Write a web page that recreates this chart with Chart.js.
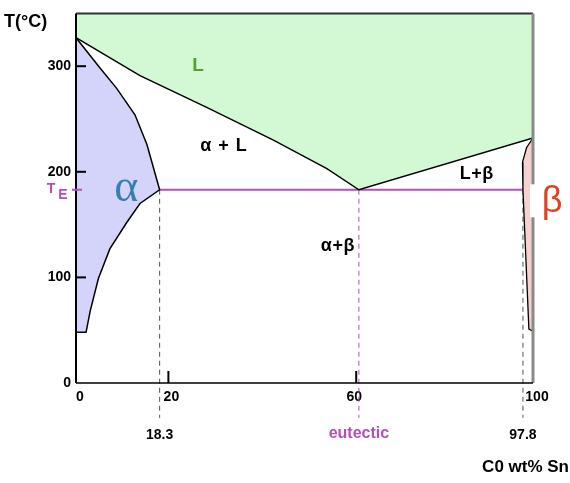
<!DOCTYPE html>
<html>
<head>
<meta charset="utf-8">
<script src="https://cdn.jsdelivr.net/npm/chart.js@4.4.1/dist/chart.umd.min.js"></script>
<style>
  html, body { margin: 0; padding: 0; background: #fff; }
  #wrap { width: 570px; height: 483px; }
</style>
</head>
<body>
<div id="wrap"><canvas id="phase"></canvas></div>
<script>
// Pb-Sn phase diagram
const liquidusX = [0, 14.0, 28.6, 43.2, 54.9, 61.9, 100];
const liquidusT = [327, 291, 261, 230, 203, 183, 232];

const alphaSolidusX = [0, 5.3, 8.9, 12.9, 15.5, 18.3];
const alphaSolidusT = [327, 298, 279, 254, 226, 183];
const alphaSolvusX = [18.3, 14.0, 11.1, 7.4, 4.9, 3.1, 2.2, 0];
const alphaSolvusT = [183, 170, 152, 127, 99, 68, 48, 48];

const betaX = [100, 98.6, 97.7, 97.8, 99.1, 100];
const betaT = [232, 223, 209, 183, 51, 49];

const eutecticT = 183;
const alphaMax = 18.3, eutecticC = 61.9, betaMin = 97.8;
const belowAxisT = -33;

const xTicks = [0, 20, 60, 100];
const yTicks = [0, 100, 200, 300];
const tMax = 350;

const fieldLabels = [
  { text: 'L', x: 26.7, t: 300, color: '#5a9e2c', font: 'bold 19px "Liberation Sans"', sp: '0px' },
  { text: 'α + L', x: 32.4, t: 224, color: '#000', font: 'bold 18px "Liberation Sans"', sp: '1px' },
  { text: 'L+β', x: 87.7, t: 198, color: '#000', font: 'bold 18px "Liberation Sans"', sp: '0.5px' },
  { text: 'α+β', x: 57.3, t: 130, color: '#000', font: 'bold 18px "Liberation Sans"', sp: '0.5px' },
  { text: 'α', x: 11.0, t: 184, color: '#3a7db2', font: '46px "Liberation Serif"', sp: '0px' }
];

const pts = (xs, ys) => xs.map((x, i) => ({ x: x, y: ys[i] }));
const magenta = '#b24fbc';

const datasets = [
  { // liquid field, filled up to the top
    data: pts(liquidusX, liquidusT),
    borderColor: '#000', borderWidth: 1.5,
    backgroundColor: '#d2f8d4', fill: { value: tMax }
  },
  { // alpha field
    data: pts(alphaSolidusX.concat(alphaSolvusX.slice(1)), alphaSolidusT.concat(alphaSolvusT.slice(1))),
    borderColor: '#000', borderWidth: 1.5,
    backgroundColor: '#d4d4fa', fill: 'shape'
  },
  { // beta field
    data: pts(betaX, betaT),
    borderColor: '#000', borderWidth: 1.3,
    backgroundColor: '#f6d2ce', fill: 'shape'
  },
  { // eutectic isotherm
    data: pts([alphaMax, betaMin], [eutecticT, eutecticT]),
    borderColor: magenta, borderWidth: 2, fill: false
  },
  {
    data: pts([alphaMax, alphaMax], [eutecticT, belowAxisT]),
    borderColor: '#555', borderWidth: 1, borderDash: [5, 4], fill: false, clip: false
  },
  {
    data: pts([eutecticC, eutecticC], [eutecticT, belowAxisT]),
    borderColor: magenta, borderWidth: 1, borderDash: [5, 4], fill: false, clip: false
  },
  {
    data: pts([betaMin, betaMin], [eutecticT, belowAxisT]),
    borderColor: '#555', borderWidth: 1, borderDash: [5, 4], fill: false, clip: false
  }
];

const decorations = {
  id: 'decorations',
  afterDatasetsDraw(chart) {
    const ctx = chart.ctx;
    const a = chart.chartArea;
    const xs = chart.scales.x, ys = chart.scales.y;
    ctx.save();

    // frame
    ctx.strokeStyle = '#333';
    ctx.lineWidth = 2;
    ctx.beginPath(); ctx.moveTo(a.left, a.top); ctx.lineTo(a.right, a.top); ctx.stroke();
    ctx.strokeStyle = '#8a8a8a';
    ctx.lineWidth = 3;
    ctx.beginPath(); ctx.moveTo(a.right, a.top); ctx.lineTo(a.right, a.bottom); ctx.stroke();
    ctx.strokeStyle = '#000';
    ctx.lineWidth = 2;
    ctx.beginPath(); ctx.moveTo(a.left, a.top); ctx.lineTo(a.left, a.bottom); ctx.stroke();
    ctx.lineWidth = 1.5;
    ctx.beginPath(); ctx.moveTo(a.left, a.bottom); ctx.lineTo(a.right, a.bottom); ctx.stroke();

    // inward tick marks
    ctx.lineWidth = 2;
    yTicks.slice(1).forEach(v => {
      const y = ys.getPixelForValue(v);
      ctx.beginPath(); ctx.moveTo(a.left, y); ctx.lineTo(a.left + 10, y); ctx.stroke();
    });
    [20, 60].forEach(v => {
      const x = xs.getPixelForValue(v) + (v === 60 ? 6 : 1);
      ctx.beginPath(); ctx.moveTo(x, a.bottom - 12); ctx.lineTo(x, a.bottom); ctx.stroke();
    });

    // T_E marker
    const yE = ys.getPixelForValue(eutecticT);
    ctx.strokeStyle = magenta;
    ctx.beginPath(); ctx.moveTo(a.left - 4, yE); ctx.lineTo(a.left + 6, yE); ctx.stroke();
    ctx.fillStyle = magenta;
    ctx.textBaseline = 'middle';
    ctx.textAlign = 'center';
    ctx.font = 'bold 14px "Liberation Sans"';
    ctx.fillText('T', 51, yE - 1);
    ctx.fillText('E', 63, yE + 5);

    // field labels
    fieldLabels.forEach(l => {
      ctx.fillStyle = l.color;
      ctx.font = l.font;
      ctx.letterSpacing = l.sp;
      ctx.fillText(l.text, xs.getPixelForValue(l.x), ys.getPixelForValue(l.t));
    });
    ctx.letterSpacing = '0px';

    // beta label sits on the right border
    const yB = ys.getPixelForValue(173);
    ctx.fillStyle = '#fff';
    ctx.fillRect(a.right - 3, yB - 16, 36, 33);
    ctx.fillStyle = '#e2401e';
    ctx.font = '36px "Liberation Sans"';
    ctx.fillText('β', a.right + 19, yB + 2);

    // marks under the axis
    const yRow = a.bottom + 52;
    ctx.font = 'bold 14px "Liberation Sans"';
    ctx.fillStyle = '#000';
    ctx.fillText('18.3', xs.getPixelForValue(alphaMax), yRow);
    ctx.fillText('97.8', xs.getPixelForValue(betaMin), yRow);
    ctx.fillStyle = magenta;
    ctx.font = 'bold 16px "Liberation Sans"';
    ctx.fillText('eutectic', xs.getPixelForValue(eutecticC), yRow - 1);

    // axis titles
    ctx.fillStyle = '#000';
    ctx.font = 'bold 18px "Liberation Sans"';
    ctx.textAlign = 'left';
    ctx.fillText('T(°C)', 4, 22);
    ctx.font = 'bold 17px "Liberation Sans"';
    ctx.textAlign = 'right';
    ctx.fillText('C0 wt% Sn', 569, 467);

    ctx.restore();
  }
};

new Chart(document.getElementById('phase'), {
  type: 'line',
  data: { datasets: datasets },
  options: {
    responsive: true,
    maintainAspectRatio: false,
    animation: false,
    elements: { point: { radius: 0 }, line: { tension: 0 } },
    layout: { padding: { left: 0, top: 7, right: 37, bottom: 0 } },
    plugins: { legend: { display: false }, tooltip: { enabled: false } },
    scales: {
      x: {
        type: 'linear', min: 0, max: 100,
        afterBuildTicks: s => { s.ticks = xTicks.map(v => ({ value: v })); },
        afterFit: s => { s.height = 100; },
        grid: { display: false, drawTicks: false },
        border: { display: false },
        ticks: { color: '#000', font: { family: 'Liberation Sans', size: 14, weight: 'bold' }, padding: 6, maxRotation: 0, labelOffset: 4 }
      },
      y: {
        min: 0, max: tMax,
        afterBuildTicks: s => { s.ticks = yTicks.map(v => ({ value: v })); },
        afterFit: s => { s.width = 76; },
        grid: { display: false, drawTicks: false },
        border: { display: false },
        ticks: { color: '#000', font: { family: 'Liberation Sans', size: 14, weight: 'bold' }, padding: 5 }
      }
    }
  },
  plugins: [decorations]
});
</script>
</body>
</html>
